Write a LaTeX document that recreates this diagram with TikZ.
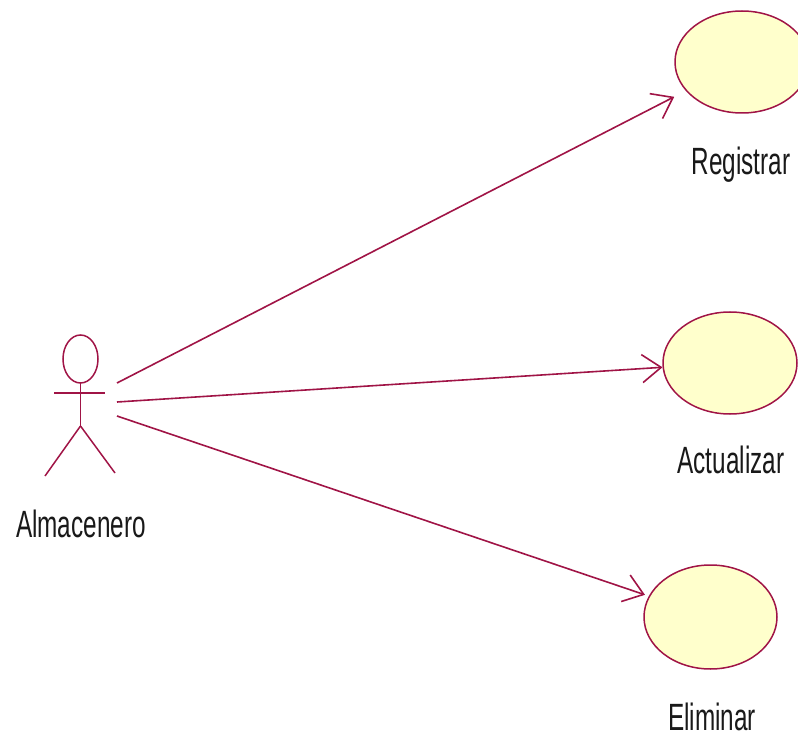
\documentclass[tikz,border=0pt]{standalone}
\usepackage{fontspec}
\setmainfont{Liberation Sans}
\usetikzlibrary{shapes.geometric,arrows.meta}
\definecolor{umlred}{RGB}{160,20,70}
\definecolor{ucfill}{RGB}{255,255,204}
\newcommand{\uclabel}[1]{\scalebox{0.64}[1]{\fontsize{38}{40}\selectfont #1}}
\tikzset{
  usecase/.style={ellipse, draw=umlred, fill=ucfill, line width=1.5pt, inner sep=0pt},
  actorline/.style={draw=umlred, line width=1.5pt},
  assoc/.style={draw=umlred, line width=1.6pt, -{Straight Barb[length=19pt,width=28pt,line width=1.6pt]}},
  lbl/.style={anchor=base, inner sep=0pt, text=black!90}
}
\begin{document}
\begin{tikzpicture}[x=1pt,y=-1pt]
\useasboundingbox (0,0) rectangle (798,735);
\clip (0,0) rectangle (798,735);
% actor
\draw[actorline] (80.5,359) ellipse [x radius=17.5, y radius=24];
\draw[actorline] (80.5,383) -- (80.5,426);
\draw[actorline] (54,393) -- (105,393);
\draw[actorline] (80.5,426) -- (45,476);
\draw[actorline] (80.5,426) -- (115,473);
\node[lbl] (actlbl) at (81,537) {\uclabel{Almacenero}};
% use cases
\node[usecase, minimum width=134pt, minimum height=102pt] (reg) at (742,62) {};
\node[usecase, minimum width=134pt, minimum height=102pt] (act) at (730,363) {};
\node[usecase, minimum width=133pt, minimum height=104pt] (eli) at (710.5,617) {};
\node[lbl] (reglbl) at (741,175) {\uclabel{Registrar}};
\node[lbl] (actlbl2) at (731,473) {\uclabel{Actualizar}};
\node[lbl] (elilbl) at (712,730) {\uclabel{Eliminar}};
% connectors
\coordinate (s1) at (117,383);
\coordinate (s2) at (117,402);
\coordinate (s3) at (117,416);
\draw[assoc, shorten >=13pt] (s1) -- (reg);
\draw[assoc] (s2) -- (act);
\draw[assoc, shorten >=4pt] (s3) -- (eli);
\end{tikzpicture}
\end{document}
